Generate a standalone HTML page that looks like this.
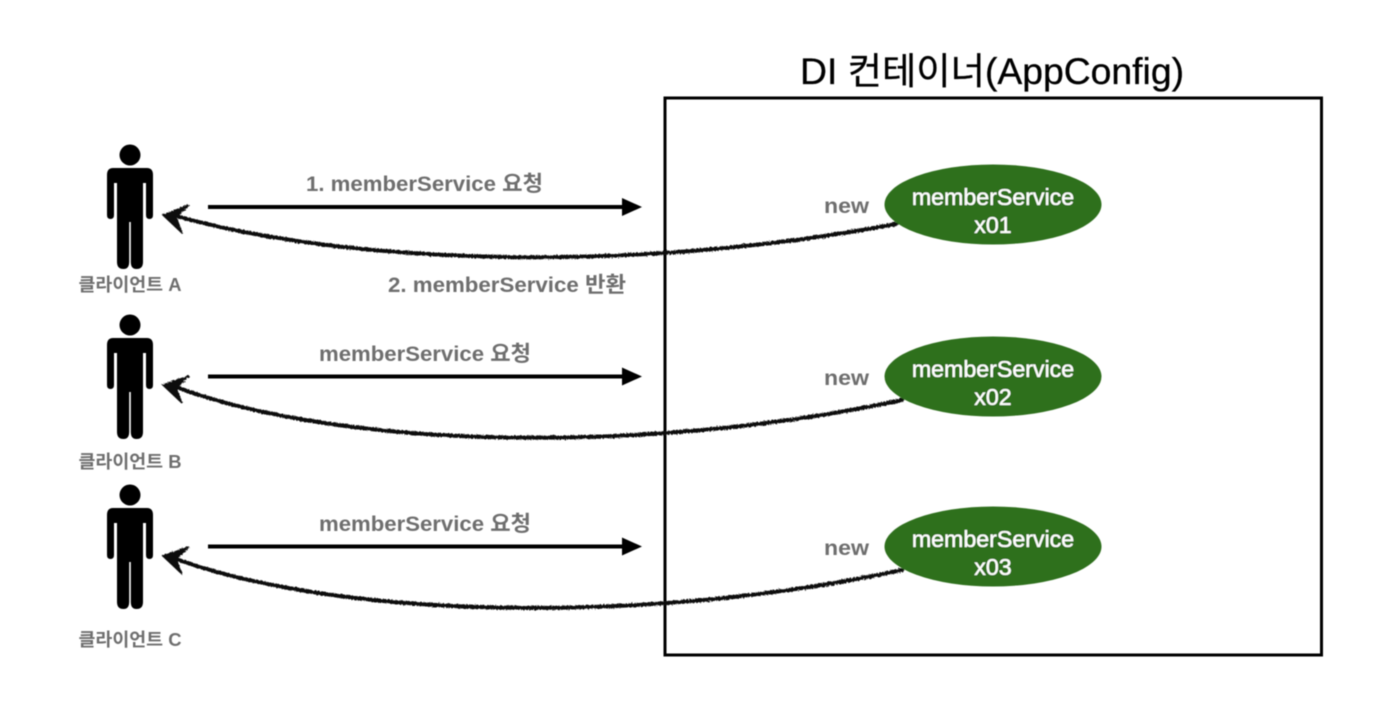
<!DOCTYPE html>
<html><head><meta charset="utf-8"><style>
html,body{margin:0;padding:0;background:#fff}
svg{display:block}
text{font-family:"Liberation Sans","Noto Sans CJK KR",sans-serif}
.g{fill:#6e6e6e;font-weight:700;font-size:21.5px}
.c{fill:#6e6e6e;font-weight:700;font-size:18px;text-anchor:middle}
.w{fill:#fff;font-size:23.2px;text-anchor:middle;font-weight:400;stroke:#fff;stroke-width:.35}
</style></head><body>
<svg width="1394" height="704" viewBox="0 0 1394 704" xmlns="http://www.w3.org/2000/svg">
<defs>
<filter id="r" filterUnits="userSpaceOnUse" x="0" y="0" width="1394" height="704"><feTurbulence type="fractalNoise" baseFrequency=".6" numOctaves="2" seed="3"/><feDisplacementMap in="SourceGraphic" scale="3"/></filter>
<filter id="b" filterUnits="userSpaceOnUse" x="0" y="0" width="1394" height="704"><feGaussianBlur stdDeviation=".45"/></filter>
<g id="p" fill="#000">
<circle cx="130" cy="155" r="10.5"/>
<path d="M113 168H147Q153 168 153 175V215Q153 219 149.500 219Q146 219 146 215V183H143V262Q143 269 136.500 269Q130.800 269 130.800 262V222H129.200V262Q129.200 269 123.500 269Q117 269 117 262V183H114V215Q114 219 110.500 219Q107 219 107 215V175Q107 168 113 168Z"/>
</g>
</defs>
<g filter="url(#b)">
<rect x="665" y="98" width="656.500" height="557" fill="none" stroke="#000" stroke-width="3"/>
<text x="992" y="84" text-anchor="middle" font-size="37" fill="#000" stroke="#000" stroke-width=".3" textLength="384" lengthAdjust="spacingAndGlyphs">DI 컨테이너(AppConfig)</text>

<use href="#p"/><use href="#p" y="170"/><use href="#p" y="340"/>
<text class="c" x="130" y="291" textLength="103" lengthAdjust="spacingAndGlyphs">클라이언트 A</text>
<text class="c" x="130" y="468" textLength="103" lengthAdjust="spacingAndGlyphs">클라이언트 B</text>
<text class="c" x="130" y="646" textLength="103" lengthAdjust="spacingAndGlyphs">클라이언트 C</text>

<g stroke="#000" stroke-width="4" fill="none">
<path d="M208 207H625M208 376.500H625M208 546.500H625"/>
</g>
<g fill="#000">
<path d="M622 198L642 207L622 216Z"/><path d="M622 367.500L642 376.500L622 385.500Z"/><path d="M622 537.500L642 546.500L622 555.500Z"/>
</g>

<g filter="url(#r)" stroke="#111" stroke-width="4" fill="none" stroke-linecap="round">
<path d="M176 216C340 262 620 276 896 224"/>
<path d="M176 387C340 448 640 456 902 400"/>
<path d="M176 559C340 618 640 626 902 570"/>
</g>
<g filter="url(#r)" fill="#111" stroke="#111" stroke-width="1.500">
<path d="M163 215L189 205L176 217L182 233Z"/>
<path d="M163 385L189 376L176 388L182 403Z"/>
<path d="M163 556L189 547L176 559L182 574Z"/>
</g>

<text class="g" x="306" y="191" textLength="237" lengthAdjust="spacingAndGlyphs">1. memberService 요청</text>
<text class="g" x="388" y="292" textLength="238" lengthAdjust="spacingAndGlyphs">2. memberService 반환</text>
<text class="g" x="319" y="361" textLength="212" lengthAdjust="spacingAndGlyphs">memberService 요청</text>
<text class="g" x="319" y="531" textLength="212" lengthAdjust="spacingAndGlyphs">memberService 요청</text>
<text class="g" x="824" y="213" textLength="45" lengthAdjust="spacingAndGlyphs">new</text>
<text class="g" x="824" y="385" textLength="45" lengthAdjust="spacingAndGlyphs">new</text>
<text class="g" x="824" y="555" textLength="45" lengthAdjust="spacingAndGlyphs">new</text>

<g fill="#2f6f1f">
<ellipse cx="993" cy="204.500" rx="108.500" ry="40"/>
<ellipse cx="993" cy="376.500" rx="108.500" ry="40"/>
<ellipse cx="993" cy="546.500" rx="108.500" ry="40"/>
</g>
<text class="w" x="993" y="205">memberService</text><text class="w" x="993" y="233">x01</text>
<text class="w" x="993" y="377">memberService</text><text class="w" x="993" y="405">x02</text>
<text class="w" x="993" y="547">memberService</text><text class="w" x="993" y="575">x03</text>
</g>
</svg>
</body></html>
